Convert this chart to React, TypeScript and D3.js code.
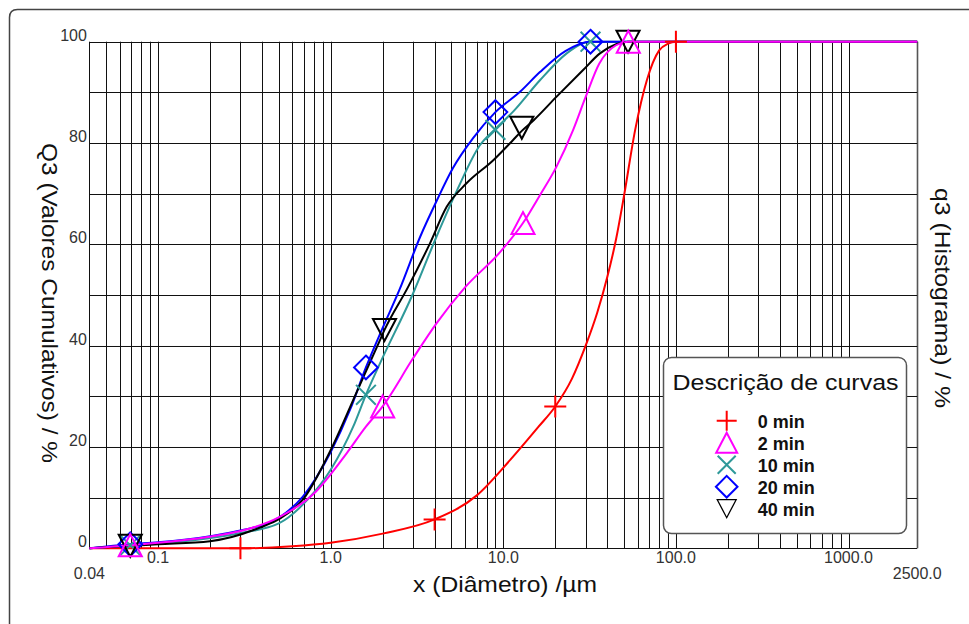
import { useEffect, useRef } from "react";
import * as d3 from "d3";

// diameters (µm) and cumulative Q3 (%)
const curve0 = [[0.04, 0], [0.3, 0], [0.6, 0.4], [1, 1.1], [2, 2.9], [4, 5.7], [7, 10.4], [11, 17.5], [16, 24], [20, 28], [25, 33.5], [30, 40], [35, 46.5], [40, 53.5], [45, 61], [50, 69.5], [58, 82.5], [68, 92.5], [80, 98.3], [90, 99.6], [100, 100], [2500, 100]];
const marks0 = [[0.3, 0], [4, 5.7], [20, 28], [100, 100]];

const curve2 = [[0.04, 0], [0.069, 0.6], [0.1, 1.1], [0.2, 2.3], [0.3, 3.4], [0.5, 6.1], [0.8, 10.8], [1.24, 18.8], [1.6, 24], [2, 28], [3, 37.5], [4.1, 44.4], [6, 51.5], [9.6, 58.5], [13, 64.2], [16.3, 69.7], [20.3, 75.3], [25.4, 82.6], [30, 89.1], [36, 95.7], [45, 99.3], [53, 100], [2500, 100]];
const marks2 = [[0.069, 0.6], [2, 28], [13, 64.2], [53, 100]];

const curve10 = [[0.04, 0], [0.069, 0.6], [0.1, 1], [0.16, 1.6], [0.3, 3], [0.5, 4.9], [0.73, 9.5], [1, 15.5], [1.35, 24], [1.6, 30.3], [1.93, 36.5], [3, 50.3], [4.1, 61.5], [5.4, 70.7], [7.3, 79.5], [9, 82.8], [11.4, 86.2], [16.3, 92.4], [23.3, 97.7], [29, 99.7], [32, 100], [2500, 100]];
const marks10 = [[0.069, 0.6], [1.6, 30.3], [9, 82.6], [32, 100]];

const curve20 = [[0.04, 0], [0.069, 0.8], [0.1, 1.2], [0.2, 2.4], [0.3, 3.5], [0.51, 6.2], [0.69, 10.2], [1, 19], [1.3, 27.5], [1.6, 35.7], [2, 43.5], [2.5, 51], [3.3, 61.5], [4.1, 68.5], [5.1, 75], [6.7, 81], [9, 86.1], [12.5, 90.1], [16.3, 94], [23, 98.2], [32, 100], [2500, 100]];
const marks20 = [[0.069, 0.8], [1.6, 35.7], [9, 86.1], [32, 100]];

const curve40 = [[0.04, 0], [0.069, 0.5], [0.1, 0.8], [0.2, 1.4], [0.39, 4.1], [0.51, 5.9], [0.69, 9.6], [1, 19.4], [1.4, 30.5], [1.93, 41.1], [2.05, 43.1], [2.8, 51.5], [3.76, 60.2], [4.7, 67.4], [6.1, 72], [8.75, 76.6], [11.4, 80.6], [12.8, 82.4], [15, 84.5], [20.3, 89.1], [29, 94.4], [36.3, 97.7], [45, 99.5], [52.8, 100], [2500, 100]];
const marks40 = [[0.069, 0.5], [2.05, 43.1], [12.8, 83], [52.8, 100]];

const seriesNames = ["0 min", "2 min", "10 min", "20 min", "40 min"];

const xTickValues = [0.04, 0.1, 1, 10, 100, 1000, 2500];
const xTickLabels = ["0.04", "0.1", "1.0", "10.0", "100.0", "1000.0", "2500.0"];
const yTickValues = [0, 20, 40, 60, 80, 100];

const FONT = "'Liberation Sans', Arial, sans-serif";

const symbols: Record<string, (s: number) => string> = {
  plus: s => `M${-s},0H${s}M0,${-s}V${s}`,
  tri: s => `M0,${-s}L${s * 1.05},${s}L${-s * 1.05},${s}Z`,
  cross: s => `M${-s * 0.9},${-s * 0.9}L${s * 0.9},${s * 0.9}M${-s * 0.9},${s * 0.9}L${s * 0.9},${-s * 0.9}`,
  diamond: s => `M0,${-s * 1.08}L${s * 1.08},0L0,${s * 1.08}L${-s * 1.08},0Z`,
  itri: s => `M${-s * 1.05},${-s}L${s * 1.05},${-s}L0,${s}Z`,
};

const App = () => {
  const svgRef = useRef<SVGSVGElement>(null);
  const width = 969;
  const height = 624;

  useEffect(() => {
    const svg = d3.select(svgRef.current);
    svg.selectAll("*").remove();

    const margin = { left: 89.4, top: 41.7, right: 51.8, bottom: 75.7 };
    const innerW = width - margin.left - margin.right;
    const innerH = height - margin.top - margin.bottom;

    const x = d3.scaleLog().domain([0.04, 2500]).range([0, innerW]);
    const y = d3.scaleLinear().domain([0, 100]).range([innerH, 0]);

    // outer frame
    svg.append("path")
      .attr("d", `M9.5,${height + 5}V17.5Q9.5,9.5 17.5,9.5H${width + 5}`)
      .attr("fill", "none")
      .attr("stroke", "#444")
      .attr("stroke-width", 1.5);

    const g = svg.append("g").attr("transform", `translate(${margin.left},${margin.top})`);

    // grid
    const vLines: number[] = [];
    [0.01, 0.1, 1, 10, 100, 1000].forEach(d => {
      for (let k = 1; k <= 9; k++) {
        const v = d * k;
        if (v >= 0.04 - 1e-9 && v <= 1000 + 1e-9) vLines.push(v);
      }
    });
    vLines.push(2500);

    g.append("g").selectAll("line")
      .data(vLines)
      .enter().append("line")
      .attr("x1", d => Math.round(x(d) + margin.left) - margin.left + 0.5)
      .attr("x2", d => Math.round(x(d) + margin.left) - margin.left + 0.5)
      .attr("y1", 0)
      .attr("y2", innerH)
      .attr("stroke", d => (d === 2500 ? "#555" : "#111"))
      .attr("stroke-width", d => (d === 2500 ? 1.6 : 1));

    g.append("g").selectAll("line")
      .data(d3.range(0, 101, 10))
      .enter().append("line")
      .attr("x1", 0)
      .attr("x2", innerW)
      .attr("y1", d => Math.round(y(d) + margin.top) - margin.top + 0.5)
      .attr("y2", d => Math.round(y(d) + margin.top) - margin.top + 0.5)
      .attr("stroke", "#111")
      .attr("stroke-width", 1);

    // tick labels
    g.append("g").selectAll("text")
      .data(yTickValues)
      .enter().append("text")
      .attr("x", -2.5)
      .attr("y", d => y(d) - 1)
      .attr("text-anchor", "end")
      .attr("font-family", FONT)
      .attr("font-size", 16)
      .attr("fill", "#333")
      .text(d => String(d));

    g.append("g").selectAll("text")
      .data(xTickValues)
      .enter().append("text")
      .attr("x", d => x(d))
      .attr("y", (d, i) => (i === 0 || i === xTickValues.length - 1 ? innerH + 31 : innerH + 15))
      .attr("text-anchor", "middle")
      .attr("font-family", FONT)
      .attr("font-size", 16)
      .attr("fill", "#333")
      .text((d, i) => xTickLabels[i]);

    // axis titles
    svg.append("text")
      .attr("x", 505)
      .attr("y", 592)
      .attr("text-anchor", "middle")
      .attr("font-family", FONT)
      .attr("font-size", 22)
      .attr("fill", "#111")
      .attr("textLength", 184)
      .attr("lengthAdjust", "spacingAndGlyphs")
      .text("x (Diâmetro) /µm");

    svg.append("text")
      .attr("transform", "translate(42,303) rotate(90)")
      .attr("text-anchor", "middle")
      .attr("font-family", FONT)
      .attr("font-size", 22)
      .attr("fill", "#111")
      .attr("textLength", 320)
      .attr("lengthAdjust", "spacingAndGlyphs")
      .text("Q3 (Valores Cumulativos) / %");

    svg.append("text")
      .attr("transform", "translate(935,298) rotate(90)")
      .attr("text-anchor", "middle")
      .attr("font-family", FONT)
      .attr("font-size", 22)
      .attr("fill", "#111")
      .attr("textLength", 220)
      .attr("lengthAdjust", "spacingAndGlyphs")
      .text("q3 (Histograma) / %");

    const series = [
      { curve: curve0, marks: marks0, color: "#ff0000", sym: "plus" },
      { curve: curve2, marks: marks2, color: "#ff00ff", sym: "tri" },
      { curve: curve10, marks: marks10, color: "#2e9999", sym: "cross" },
      { curve: curve20, marks: marks20, color: "#0000ff", sym: "diamond" },
      { curve: curve40, marks: marks40, color: "#000000", sym: "itri" },
    ];

    const line = d3.line<number[]>()
      .x(d => x(d[0]))
      .y(d => y(d[1]))
      .curve(d3.curveMonotoneX);

    const drawOrder = [0, 2, 3, 4, 1];
    drawOrder.forEach(i => {
      g.append("path")
        .datum(series[i].curve)
        .attr("fill", "none")
        .attr("stroke", series[i].color)
        .attr("stroke-width", 2)
        .attr("stroke-linejoin", "round")
        .attr("d", line);
    });

    drawOrder.forEach(i => {
      g.append("g").selectAll("path")
        .data(series[i].marks)
        .enter().append("path")
        .attr("transform", d => `translate(${x(d[0])},${y(d[1])})`)
        .attr("d", symbols[series[i].sym](11))
        .attr("fill", "none")
        .attr("stroke", series[i].color)
        .attr("stroke-width", 2);
    });

    // legend
    const lg = svg.append("g").attr("transform", "translate(663,357)");
    lg.append("rect")
      .attr("x", 0.5)
      .attr("y", 0.5)
      .attr("width", 243)
      .attr("height", 176)
      .attr("rx", 8)
      .attr("fill", "#fff")
      .attr("stroke", "#555")
      .attr("stroke-width", 1.5);
    lg.append("text")
      .attr("x", 9.5)
      .attr("y", 33)
      .attr("font-family", FONT)
      .attr("font-size", 22)
      .attr("fill", "#111")
      .attr("textLength", 226)
      .attr("lengthAdjust", "spacingAndGlyphs")
      .text("Descrição de curvas");

    series.forEach((s, i) => {
      const cy = 63.7 + i * 22;
      lg.append("path")
        .attr("transform", `translate(63.7,${cy})`)
        .attr("d", symbols[s.sym](i === 4 ? 9 : 10))
        .attr("fill", "none")
        .attr("stroke", s.color)
        .attr("stroke-width", i === 4 ? 1.3 : 2);
      lg.append("text")
        .attr("x", 94.7)
        .attr("y", cy + 6.8)
        .attr("font-family", FONT)
        .attr("font-size", 18)
        .attr("font-weight", "bold")
        .attr("fill", "#111")
        .text(seriesNames[i]);
    });
  }, []);

  return (
    <svg
      ref={svgRef}
      width={width}
      height={height}
      style={{ position: "absolute", left: 0, top: 0, background: "#fff" }}
    />
  );
};

export default App;
